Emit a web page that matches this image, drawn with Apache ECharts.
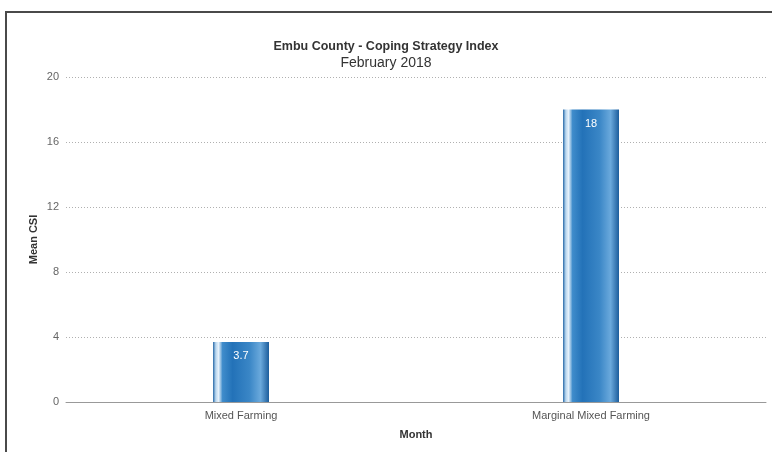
<!DOCTYPE html>
<html>
<head>
<meta charset="utf-8">
<script src="https://cdn.jsdelivr.net/npm/echarts@6/dist/echarts.min.js"></script>
<style>
  html, body { margin: 0; padding: 0; background: #fff; }
  #chart { width: 772px; height: 452px; }
</style>
</head>
<body>
<div id="chart"></div>
<script>
// Livelihood zones and their mean coping strategy index
const zones = ['Mixed Farming', 'Marginal Mixed Farming'];
const meanCsi = [3.7, 18];
const yTicks = [0, 4, 8, 12, 16, 20];

const chart = echarts.init(document.getElementById('chart'), null, { renderer: 'canvas' });

// Cylinder-like horizontal shading on the bars
const barFill = new echarts.graphic.LinearGradient(0, 0, 1, 0, [
  { offset: 0.00, color: '#2a6aa8' },
  { offset: 0.05, color: '#b9d7ef' },
  { offset: 0.10, color: '#e8f2fb' },
  { offset: 0.17, color: '#3f8ccb' },
  { offset: 0.35, color: '#2372b8' },
  { offset: 0.65, color: '#3a86c6' },
  { offset: 0.85, color: '#6aa9dc' },
  { offset: 1.00, color: '#1c5d9c' }
]);

const font = '"Liberation Sans", Arial, Helvetica, sans-serif';

chart.setOption({
  animation: false,
  textStyle: { fontFamily: font },
  graphic: [{
    type: 'rect',
    shape: { x: 6, y: 12, width: 800, height: 500 },
    style: { fill: 'none', stroke: '#4a4a4a', lineWidth: 2 },
    silent: true
  }],
  title: [{
    text: 'Embu County - Coping Strategy Index',
    left: 'center',
    top: 35,
    textStyle: { fontFamily: font, fontSize: 12.5, fontWeight: 'bold', color: '#333' }
  }, {
    text: 'February 2018',
    left: 'center',
    top: 51,
    textStyle: { fontFamily: font, fontSize: 14, fontWeight: 'normal', color: '#333' }
  }],
  grid: { left: 66, right: 6, top: 77, bottom: 50 },
  xAxis: {
    type: 'category',
    data: zones,
    name: 'Month',
    nameLocation: 'middle',
    nameGap: 27,
    nameTextStyle: { fontFamily: font, fontSize: 11, fontWeight: 'bold', color: '#333' },
    axisLine: { lineStyle: { color: '#999', width: 1 } },
    axisTick: { show: false },
    axisLabel: { fontFamily: font, fontSize: 11, color: '#555', margin: 8 }
  },
  yAxis: {
    type: 'value',
    min: yTicks[0],
    max: yTicks[yTicks.length - 1],
    interval: 4,
    name: 'Mean CSI',
    nameLocation: 'middle',
    nameGap: 27,
    nameMoveOverlap: false,
    nameTextStyle: { fontFamily: font, fontSize: 11, fontWeight: 'bold', color: '#333' },
    axisLine: { show: false },
    axisTick: { show: false },
    axisLabel: { fontFamily: font, fontSize: 11, color: '#666', margin: 7 },
    splitLine: { lineStyle: { color: '#b0b0b0', type: [1, 2], width: 1 } }
  },
  series: [{
    type: 'bar',
    data: meanCsi,
    barWidth: 56,
    itemStyle: { color: barFill },
    label: {
      show: true,
      position: 'insideTop',
      distance: 9,
      color: '#fff',
      fontFamily: font,
      fontSize: 11
    }
  }]
});
</script>
</body>
</html>
